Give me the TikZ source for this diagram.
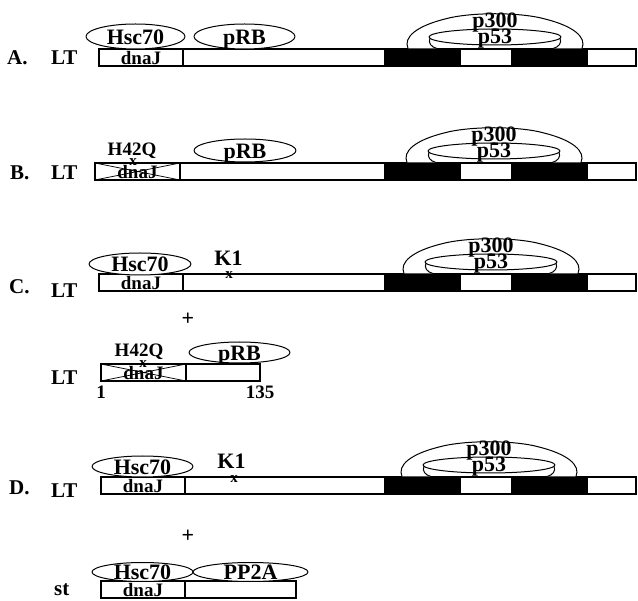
\documentclass[tikz,border=0pt]{standalone}
\usepackage{fontspec}
\setmainfont{Liberation Serif}
\usepackage{tikz}
\usetikzlibrary{shapes.geometric,calc}
\tikzset{seg/.style={draw,line width=1.2pt,inner sep=0pt,outer sep=0pt,minimum height=17,anchor=north west},
  protein/.style={draw,fill=white,line width=1pt,line join=round},
  bind/.style={protein,ellipse,inner sep=0pt,outer sep=0pt},
  lbl/.style={font=\fontsize{22}{22}\selectfont\bfseries,inner sep=0pt,anchor=base},
  small/.style={font=\fontsize{19}{19}\selectfont\bfseries,inner sep=0pt,anchor=base},
  mutx/.style={font=\fontsize{15}{15}\selectfont\bfseries,inner sep=0pt,anchor=base},
  rowlbl/.style={font=\fontsize{21}{21}\selectfont\bfseries,inner sep=0pt,anchor=base west}}
% dnaJ box followed by one open box
\newcommand{\dnajbox}[5]{%
  \node[seg,minimum width=#3-#2] (#1-dnaj) at (#2,#5) {};
  \node[seg,minimum width=#4-#3] (#1-rest) at (#1-dnaj.north east) {};}
% full length LT with the two p53 binding blocks
\newcommand{\ltbar}[4]{%
  \dnajbox{#1}{#2}{#3}{385}{#4}
  \node[seg,fill=black,minimum width=75] (#1-pbd1) at (#1-rest.north east) {};
  \node[seg,minimum width=52] (#1-gap) at (#1-pbd1.north east) {};
  \node[seg,fill=black,minimum width=75] (#1-pbd2) at (#1-gap.north east) {};
  \node[seg,minimum width=49] (#1-tail) at (#1-pbd2.north east) {};}
\newcommand{\site}[5]{%
  \node[bind,minimum width=#3,minimum height=#4] (#1) at (#2) {};
  \node[lbl] (#1-t) at ([yshift=-8pt]#1.center) {#5};}
% p300 arch over p53
\newcommand{\pcomplex}[3]{%
  \fill[white] ({#2-87},{#3-0.5})
    .. controls ({#2-92},{#3-12}) and ({#2-78},{#3-23}) .. ({#2-50},{#3-30})
    .. controls ({#2-25},{#3-37}) and ({#2+25},{#3-37}) .. ({#2+50},{#3-30})
    .. controls ({#2+78},{#3-23}) and ({#2+92},{#3-12}) .. ({#2+87},{#3-0.5})
    -- ({#2+58},{#3-0.5}) -- ({#2+60},{#3-12}) -- ({#2-60},{#3-12})
    -- ({#2-58},{#3-0.5}) -- cycle;
  \draw[line width=1pt,line cap=round] ({#2-58},{#3-0.5})
    .. controls ({#2-64},{#3-2}) and ({#2-67},{#3-6}) .. ({#2-65},{#3-11})
    ({#2-87},{#3-0.5})
    .. controls ({#2-92},{#3-12}) and ({#2-78},{#3-23}) .. ({#2-50},{#3-30})
    .. controls ({#2-25},{#3-37}) and ({#2+25},{#3-37}) .. ({#2+50},{#3-30})
    .. controls ({#2+78},{#3-23}) and ({#2+92},{#3-12}) .. ({#2+87},{#3-0.5})
    ({#2+58},{#3-0.5})
    .. controls ({#2+64},{#3-2}) and ({#2+67},{#3-6}) .. ({#2+65},{#3-11});
  \node[bind,minimum width=132,minimum height=16] (#1-p53) at (#2,{#3-12}) {};
  \node[lbl] (#1-p300t) at (#2,{#3-21}) {p300};
  \node[lbl] (#1-p53t) at (#2,{#3-5}) {p53};}

\begin{document}
\begin{tikzpicture}[x=1pt,y=-1pt]
  \useasboundingbox (0,0) rectangle (638,601);
  % A
  \node[rowlbl] (a-row) at (7,65) {A.};
  \node[rowlbl] (a-lt) at (51,65) {LT};
  \ltbar{a}{99}{183}{49}
  \node[small] (a-dnajt) at ([yshift=1pt]a-dnaj.south) {dnaJ};
  \site{a-hsc}{135.5,36.5}{99}{25}{Hsc70}
  \site{a-prb}{244.5,36.5}{101}{25}{pRB}
  \pcomplex{a}{495}{49}
  % B
  \node[rowlbl] (b-row) at (10,180) {B.};
  \node[rowlbl] (b-lt) at (51,180) {LT};
  \ltbar{b}{95}{180}{163}
  \node[small] (b-dnajt) at ([yshift=1pt]b-dnaj.south) {dnaJ};
  \draw[line width=0.7pt] (b-dnaj.north west) -- (b-dnaj.south east)
    (b-dnaj.south west) -- (b-dnaj.north east);
  \node[small] (b-h42q) at (132,156) {H42Q};
  \node[mutx] (b-x) at (133,166) {x};
  \site{b-prb}{245,150.5}{102}{23}{pRB}
  \pcomplex{b}{494}{163}
  % C
  \node[rowlbl] (c-row) at (9,294) {C.};
  \node[rowlbl] (c-lt) at (51,298) {LT};
  \ltbar{c}{99}{183}{274}
  \node[small] (c-dnajt) at ([yshift=1pt]c-dnaj.south) {dnaJ};
  \site{c-hsc}{140,264}{102}{22}{Hsc70}
  \node[lbl] (c-k1) at (228.5,266) {K1};
  \node[mutx] (c-x) at (229,279) {x};
  \pcomplex{c}{491}{274}
  \node[lbl] (c-plus) at (188,326) {+};
  \node[rowlbl] (c2-lt) at (51,385) {LT};
  \dnajbox{c2}{101}{186}{260}{364}
  \node[small] (c2-dnajt) at ([yshift=1pt]c2-dnaj.south) {dnaJ};
  \draw[line width=0.7pt] (c2-dnaj.north west) -- (c2-dnaj.south east)
    (c2-dnaj.south west) -- (c2-dnaj.north east);
  \node[small] (c2-h42q) at (139,357) {H42Q};
  \node[mutx] (c2-x) at (143,368) {x};
  \site{c2-prb}{239.5,352.5}{101}{21}{pRB}
  \node[small] (c2-start) at (101,399) {1};
  \node[small] (c2-end) at (260,399) {135};
  % D
  \node[rowlbl] (d-row) at (9,495) {D.};
  \node[rowlbl] (d-lt) at (51,498) {LT};
  \ltbar{d}{101}{185}{477}
  \node[small] (d-dnajt) at ([yshift=1pt]d-dnaj.south) {dnaJ};
  \site{d-hsc}{142.5,466.5}{101}{21}{Hsc70}
  \node[lbl] (d-k1) at (231.5,469) {K1};
  \node[mutx] (d-x) at (234,483) {x};
  \pcomplex{d}{489}{477}
  \node[lbl] (d-plus) at (188,543) {+};
  \node[rowlbl] (st-lbl) at (54,596) {st};
  \dnajbox{st}{101}{185}{296}{581}
  \node[small] (st-dnajt) at ([yshift=1pt]st-dnaj.south) {dnaJ};
  \site{st-hsc}{142.5,572}{101}{19}{Hsc70}
  \site{st-pp2a}{250.5,572}{115}{19}{PP2A}
\end{tikzpicture}
\end{document}
